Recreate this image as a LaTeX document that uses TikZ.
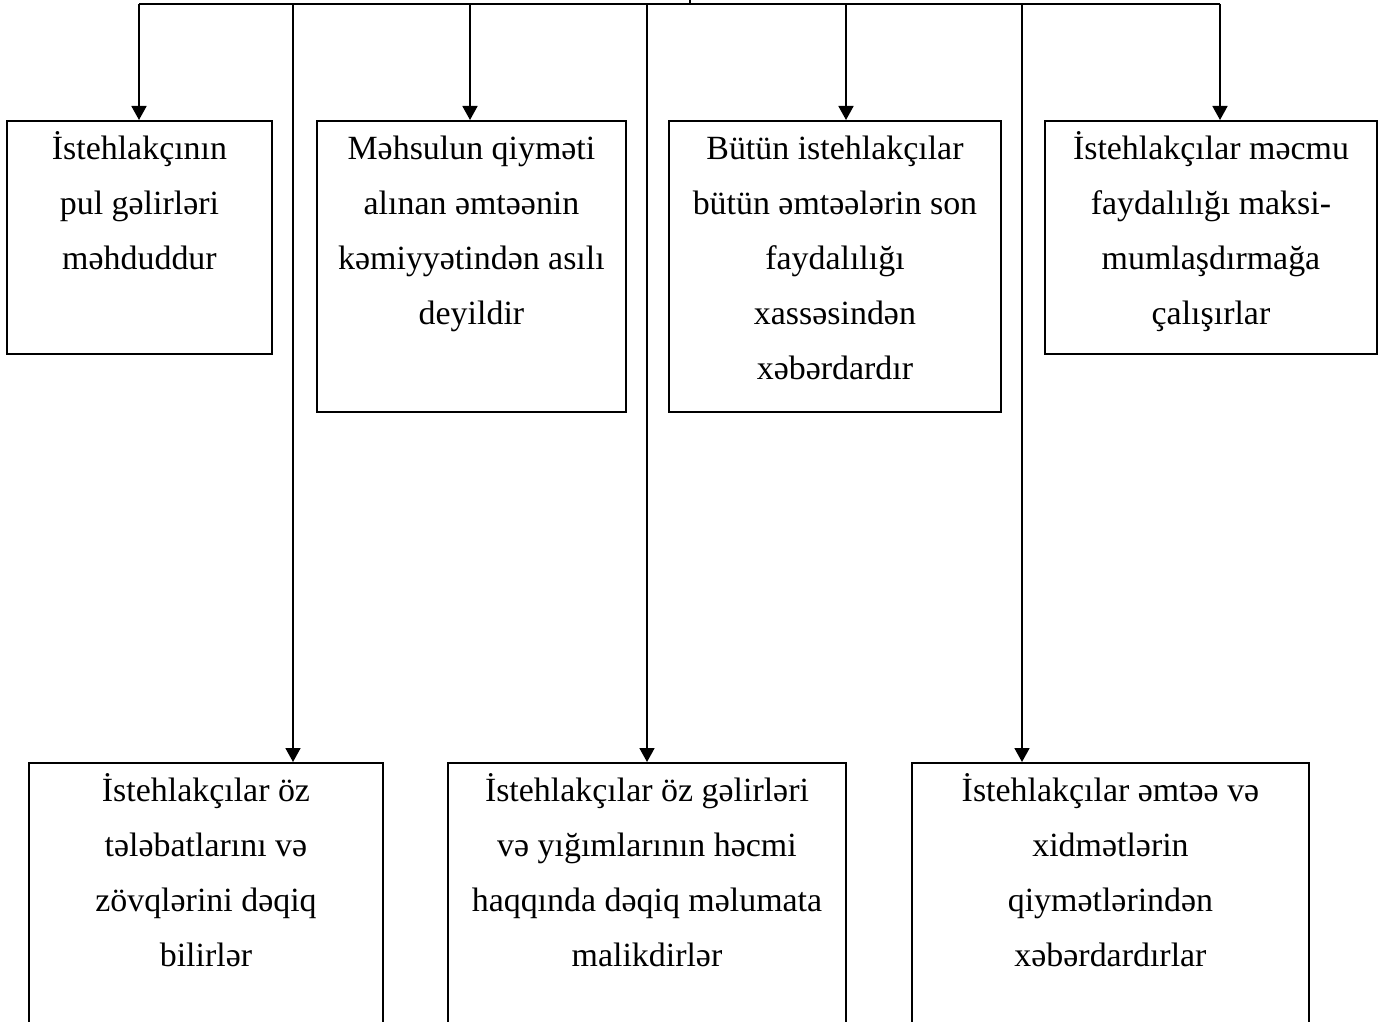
\documentclass[tikz,border=0pt]{standalone}
\usepackage{fontspec}
\setmainfont{Liberation Serif}
\usetikzlibrary{arrows.meta,positioning}
\newcommand{\cardtext}[3]{\parbox[c][#1][t]{#2}{\centering\rule{0pt}{0.78cm}#3}}

\begin{document}
\begin{tikzpicture}[
  card/.style={draw, line width=1.1pt, inner sep=0pt, anchor=north west, font=\fontsize{19.3}{31.3}\selectfont},
  arr/.style={-{Triangle[length=0.28cm,width=0.3cm]}, line width=1pt},
  bar/.style={line width=1pt}
]
\clip (0,0) rectangle (27.68,-20.44);

% upper row
\node[card] (b1) at (0.12,-2.40) {\cardtext{4.66cm}{5.30cm}{İstehlakçının\\pul gəlirləri\\məhduddur}};
\node[card] (b2) at (6.32,-2.40) {\cardtext{5.82cm}{6.18cm}{Məhsulun qiyməti\\alınan əmtəənin\\kəmiyyətindən asılı\\deyildir}};
\node[card] (b3) at (13.36,-2.40) {\cardtext{5.82cm}{6.64cm}{Bütün istehlakçılar\\bütün əmtəələrin son\\faydalılığı\\xassəsindən\\xəbərdardır}};
\node[card] (b4) at (20.88,-2.40) {\cardtext{4.66cm}{6.64cm}{İstehlakçılar məcmu\\faydalılığı maksi-\\mumlaşdırmağa\\çalışırlar}};

% lower row
\node[card] (b5) at (0.56,-15.24) {\cardtext{6cm}{7.08cm}{İstehlakçılar öz\\tələbatlarını və\\zövqlərini dəqiq\\bilirlər}};
\node[card] (b6) at (8.94,-15.24) {\cardtext{6cm}{7.96cm}{İstehlakçılar öz gəlirləri\\və yığımlarının həcmi\\haqqında dəqiq məlumata\\malikdirlər}};
\node[card] (b7) at (18.22,-15.24) {\cardtext{6cm}{7.94cm}{İstehlakçılar əmtəə və\\xidmətlərin\\qiymətlərindən\\xəbərdardırlar}};

% top bar
\coordinate (t0) at (13.80,-0.08);
\coordinate (t1) at (2.78,-0.08);
\coordinate (t2) at (9.40,-0.08);
\coordinate (t3) at (16.92,-0.08);
\coordinate (t4) at (24.40,-0.08);
\coordinate (t5) at (5.86,-0.08);
\coordinate (t6) at (12.94,-0.08);
\coordinate (t7) at (20.44,-0.08);
\draw[bar] (t1) -- (t4);
\draw[bar] (t0) -- ++(0,0.3);

\foreach \i in {1,...,7}
  \draw[arr] (t\i) -- (t\i |- b\i.north);
\end{tikzpicture}
\end{document}
